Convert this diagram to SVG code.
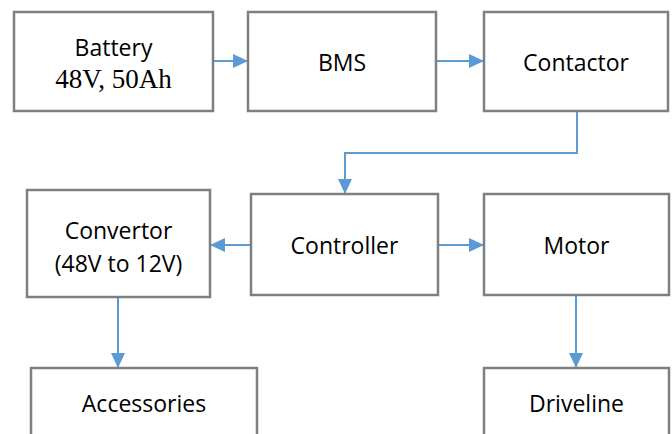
<svg xmlns="http://www.w3.org/2000/svg" width="672" height="434" viewBox="0 0 672 434">
<style>
.box{fill:#fff;stroke:#7f7f7f;stroke-width:2.5}
.t{font-family:"Open Sans","Liberation Sans",sans-serif;font-size:23px;fill:#000;text-anchor:middle}
.s{font-family:"Liberation Serif","Times New Roman",serif;font-size:27px;fill:#000;text-anchor:middle}
.c{fill:none;stroke:#5b9bd5;stroke-width:2}
</style>
<defs>
<marker id="ah" markerUnits="userSpaceOnUse" markerWidth="16" markerHeight="16" viewBox="0 0 16 16" refX="15" refY="8" orient="auto">
<polygon points="0,1 15,8 0,15" fill="#5b9bd5"/>
</marker>
</defs>
<rect width="672" height="434" fill="#fff"/>
<g id="connectors">
<line class="c" x1="213" y1="61" x2="248" y2="61" marker-end="url(#ah)"/>
<line class="c" x1="436" y1="61" x2="484" y2="61" marker-end="url(#ah)"/>
<polyline class="c" points="577,111 577,153 345,153 345,194" marker-end="url(#ah)"/>
<line class="c" x1="251" y1="245" x2="210" y2="245" marker-end="url(#ah)"/>
<line class="c" x1="438" y1="245" x2="484" y2="245" marker-end="url(#ah)"/>
<line class="c" x1="118" y1="297" x2="118" y2="368" marker-end="url(#ah)"/>
<line class="c" x1="576" y1="295" x2="576" y2="368" marker-end="url(#ah)"/>
</g>
<g id="battery"><rect class="box" x="14" y="12" width="199" height="99"/><text class="t" x="113.5" y="56">Battery</text><text class="s" x="113.5" y="88">48V, 50Ah</text></g>
<g id="bms"><rect class="box" x="248" y="12" width="188" height="99"/><text class="t" x="342" y="71">BMS</text></g>
<g id="contactor"><rect class="box" x="484" y="12" width="184" height="99"/><text class="t" x="576" y="71">Contactor</text></g>
<g id="convertor"><rect class="box" x="27" y="190" width="183" height="107"/><text class="t" x="118.5" y="239">Convertor</text><text class="t" x="118.5" y="272">(48V to 12V)</text></g>
<g id="controller"><rect class="box" x="251" y="194" width="187" height="101"/><text class="t" x="344.5" y="254">Controller</text></g>
<g id="motor"><rect class="box" x="484" y="194" width="185" height="101"/><text class="t" x="576.5" y="254">Motor</text></g>
<g id="accessories"><rect class="box" x="31" y="368" width="226" height="80"/><text class="t" x="144" y="412">Accessories</text></g>
<g id="driveline"><rect class="box" x="484" y="368" width="185" height="80"/><text class="t" x="576.5" y="412">Driveline</text></g>
</svg>
